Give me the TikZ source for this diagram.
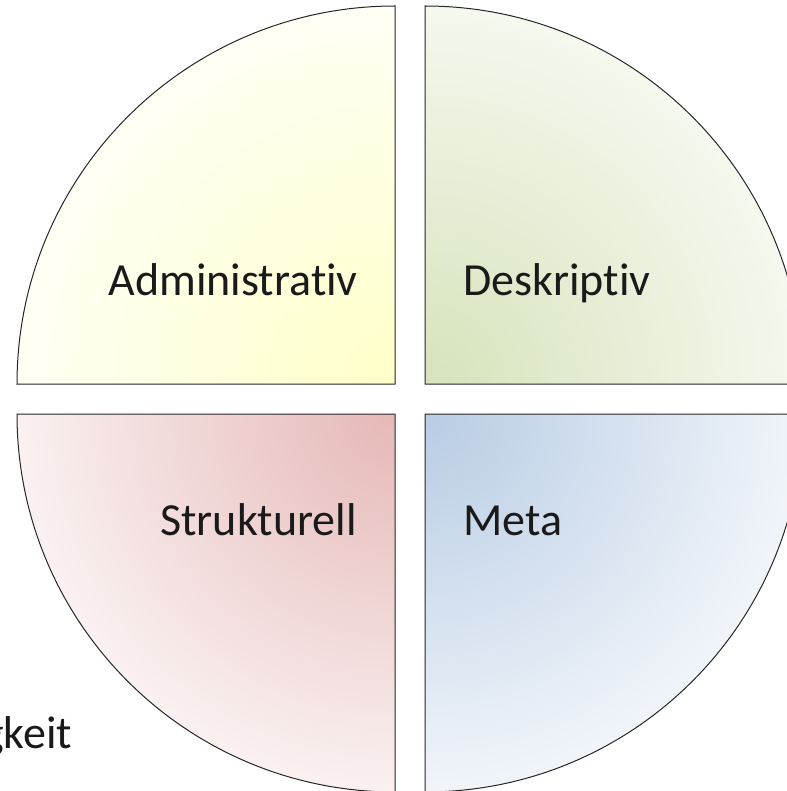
\documentclass[tikz,border=0pt]{standalone}
\usepackage{fontspec}
\setmainfont{Carlito}[Ligatures={NoCommon,NoRequired,NoContextual}]
\usepackage{tikz}
\usepackage{xcolor}
\definecolor{adminyellow}{HTML}{FFFFC8}
\definecolor{deskgreen}{HTML}{D6E3BB}
\definecolor{metablue}{HTML}{B8CCE4}
\definecolor{strukred}{HTML}{E5B8B7}
\definecolor{labeltext}{HTML}{1A1A1A}

\begin{document}
\begin{tikzpicture}[
    x=1pt, y=-1pt,
    quad/.style={draw=black!85, line width=1pt, line join=miter},
    lbl/.style={font=\fontsize{46}{55}\selectfont, text=labeltext, inner sep=0pt},
]
\useasboundingbox (0,0) rectangle (786,791);

% four quarter discs, shaded from the corner outwards
\foreach \cx/\cy/\sa/\inner/\outer in {395/384/180/adminyellow/adminyellow!18,
        425/384/270/deskgreen/deskgreen!25,
        425/414/0/metablue/metablue!20,
        395/414/90/strukred/strukred!20} {
    \begin{scope}
        \clip (\cx,\cy) -- ++(\sa:378) arc[start angle=\sa, delta angle=90, radius=378] -- cycle;
        \shade[inner color=\inner, outer color=\outer] (\cx,\cy) circle (378);
    \end{scope}
    \draw[quad] (\cx,\cy) -- ++(\sa:378) arc[start angle=\sa, delta angle=90, radius=378] -- cycle;
}

\node[lbl, anchor=base east] (admin) at (358,295) {Administrativ};
\node[lbl, anchor=base west] (deskr) at (463,295) {Deskriptiv};
\node[lbl, anchor=base east] (struk) at (357,535) {Strukturell};
\node[lbl, anchor=base west] (meta) at (463,535) {Meta};
\node[lbl, anchor=base west] (rest) at (-18,748) {gkeit};

\end{tikzpicture}
\end{document}
